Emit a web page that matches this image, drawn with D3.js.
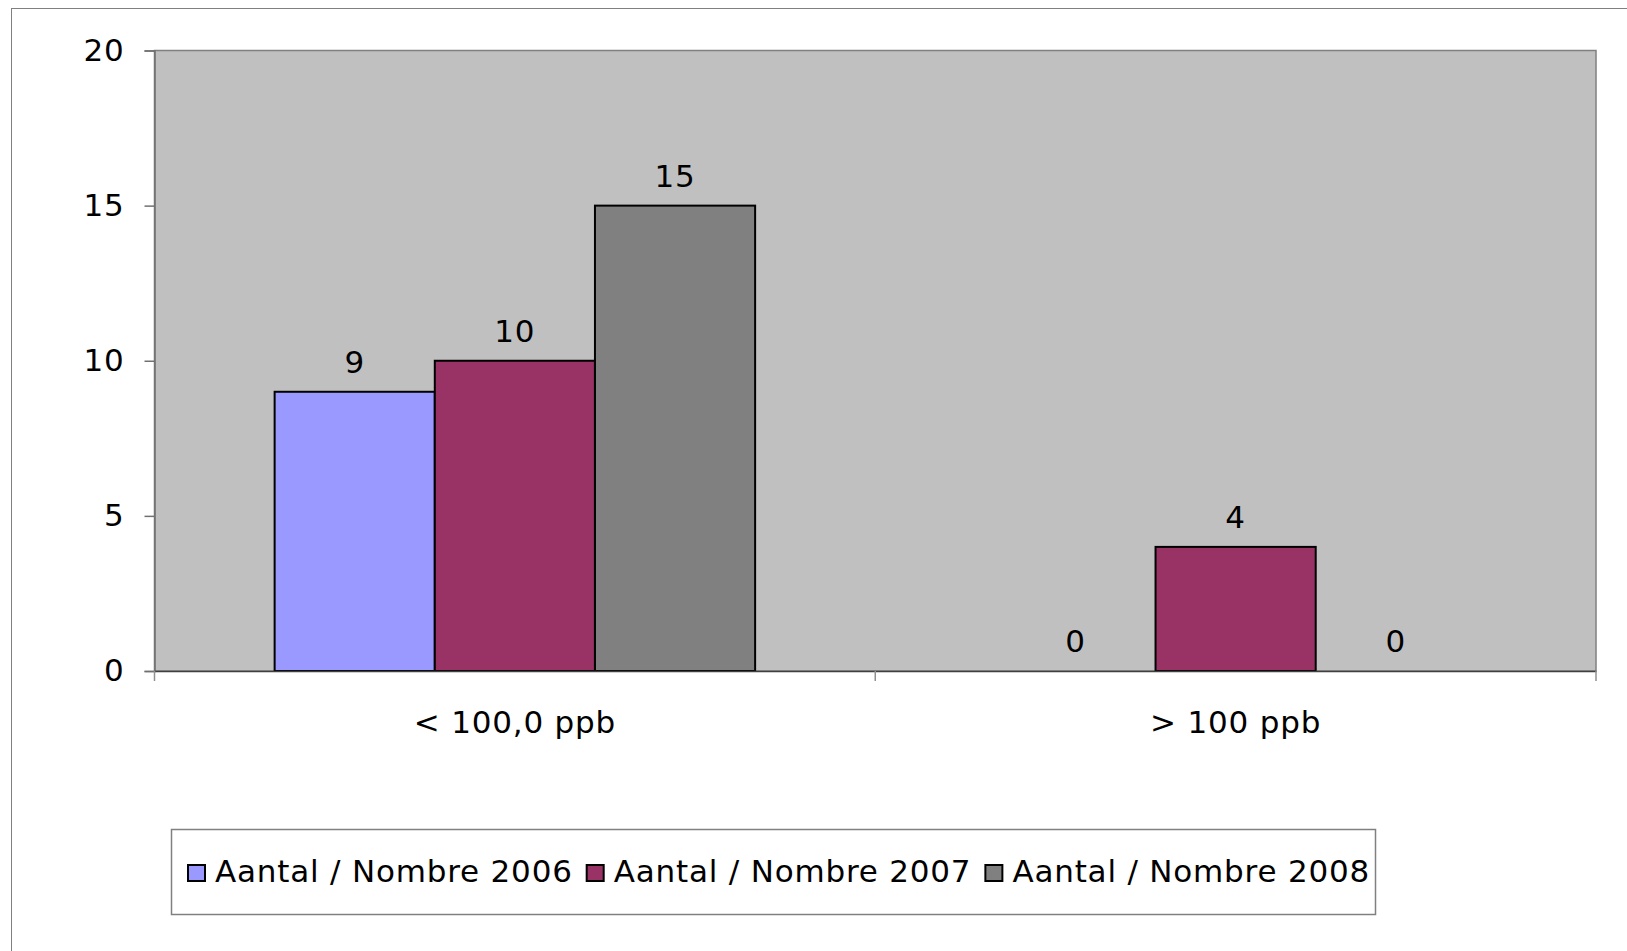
<!DOCTYPE html>
<html>
<head>
<meta charset="utf-8">
<script src="https://cdn.jsdelivr.net/npm/d3@7"></script>
<style>
  html, body { margin: 0; padding: 0; background: #ffffff; }
  svg { display: block; }
  text { font-family: "DejaVu Sans", Verdana, sans-serif; fill: #000; letter-spacing: 0.8px; }
</style>
</head>
<body>
<svg id="chart" width="1627" height="951"></svg>
<script>
const categories = ["< 100,0 ppb", "> 100 ppb"];
const seriesNames = ["Aantal / Nombre 2006", "Aantal / Nombre 2007", "Aantal / Nombre 2008"];
const values2006 = [9, 0];
const values2007 = [10, 4];
const values2008 = [15, 0];
const seriesColors = ["#9999FF", "#993366", "#808080"];
const yTicks = [0, 5, 10, 15, 20];

const seriesValues = [values2006, values2007, values2008];
const svg = d3.select("#chart");
const FS = 31;

// outer chart border
svg.append("rect").attr("x", 11.5).attr("y", 8.5).attr("width", 1700).attr("height", 1000)
  .attr("fill", "#fff").attr("stroke", "#808080").attr("stroke-width", 1);

const plot = { left: 154.5, right: 1596, top: 50.5, bottom: 671 };

const x0 = d3.scaleBand().domain(categories).range([plot.left, plot.right]).paddingInner(0).paddingOuter(0);
const y = d3.scaleLinear().domain([0, 20]).range([plot.bottom, plot.top]);

// plot area
svg.append("rect").attr("x", plot.left).attr("y", plot.top)
  .attr("width", plot.right - plot.left).attr("height", plot.bottom - plot.top)
  .attr("fill", "#C0C0C0").attr("stroke", "#808080").attr("stroke-width", 1.5);

// bars: gap width 150% => band = 4.5 bar widths
const bw = x0.bandwidth() / 4.5;
const groups = svg.append("g");
categories.forEach((c, ci) => {
  const start = x0(c) + bw * 0.75;
  seriesValues.forEach((vals, si) => {
    const v = vals[ci];
    const bx = start + si * bw;
    if (v > 0) {
      groups.append("rect").attr("x", bx).attr("y", y(v))
        .attr("width", bw).attr("height", y(0) - y(v))
        .attr("fill", seriesColors[si]).attr("stroke", "#000").attr("stroke-width", 2);
    }
    groups.append("text").attr("x", bx + bw / 2).attr("y", y(v) - 19)
      .attr("text-anchor", "middle").attr("font-size", FS).text(v);
  });
});

// y axis
const yAxis = d3.axisLeft(y).tickValues(yTicks).tickSize(10).tickPadding(8).tickFormat(d3.format("d"));
const gy = svg.append("g").attr("transform", `translate(${plot.left},0)`).call(yAxis);
gy.select(".domain").attr("stroke", "#707070").attr("stroke-width", 1.5);
gy.selectAll(".tick line").attr("stroke", "#707070").attr("stroke-width", 1.5);
gy.selectAll(".tick text").attr("font-size", FS).attr("font-family", "DejaVu Sans, Verdana, sans-serif").attr("fill", "#000").attr("dx", "-12");

// x axis
const xAxis = d3.axisBottom(x0).tickSize(0).tickPadding(40);
const gx = svg.append("g").attr("transform", `translate(0,${plot.bottom})`).call(xAxis);
gx.select(".domain").attr("stroke", "#404040").attr("stroke-width", 1.5);
gx.selectAll(".tick text").attr("font-size", FS).attr("font-family", "DejaVu Sans, Verdana, sans-serif").attr("fill", "#000");
// x separators (tick marks at band edges)
const edges = [plot.left, ...categories.map(c => x0(c) + x0.bandwidth())];
gx.selectAll(".edge").data(edges).enter().append("line")
  .attr("x1", d => d).attr("x2", d => d).attr("y1", 0).attr("y2", 10)
  .attr("stroke", "#909090").attr("stroke-width", 1.5);

// legend
const leg = svg.append("g");
leg.append("rect").attr("x", 171.5).attr("y", 829.5).attr("width", 1204).attr("height", 85)
  .attr("fill", "#fff").attr("stroke", "#808080").attr("stroke-width", 1.5);
let lx = 188;
seriesNames.forEach((name, i) => {
  leg.append("rect").attr("x", lx).attr("y", 865).attr("width", 17).attr("height", 16)
    .attr("fill", seriesColors[i]).attr("stroke", "#000").attr("stroke-width", 2);
  const t = leg.append("text").attr("x", lx + 27).attr("y", 882).attr("font-size", FS).text(name);
  const w = t.node().getComputedTextLength();
  lx = lx + 27 + w + 14;
});
</script>
</body>
</html>
